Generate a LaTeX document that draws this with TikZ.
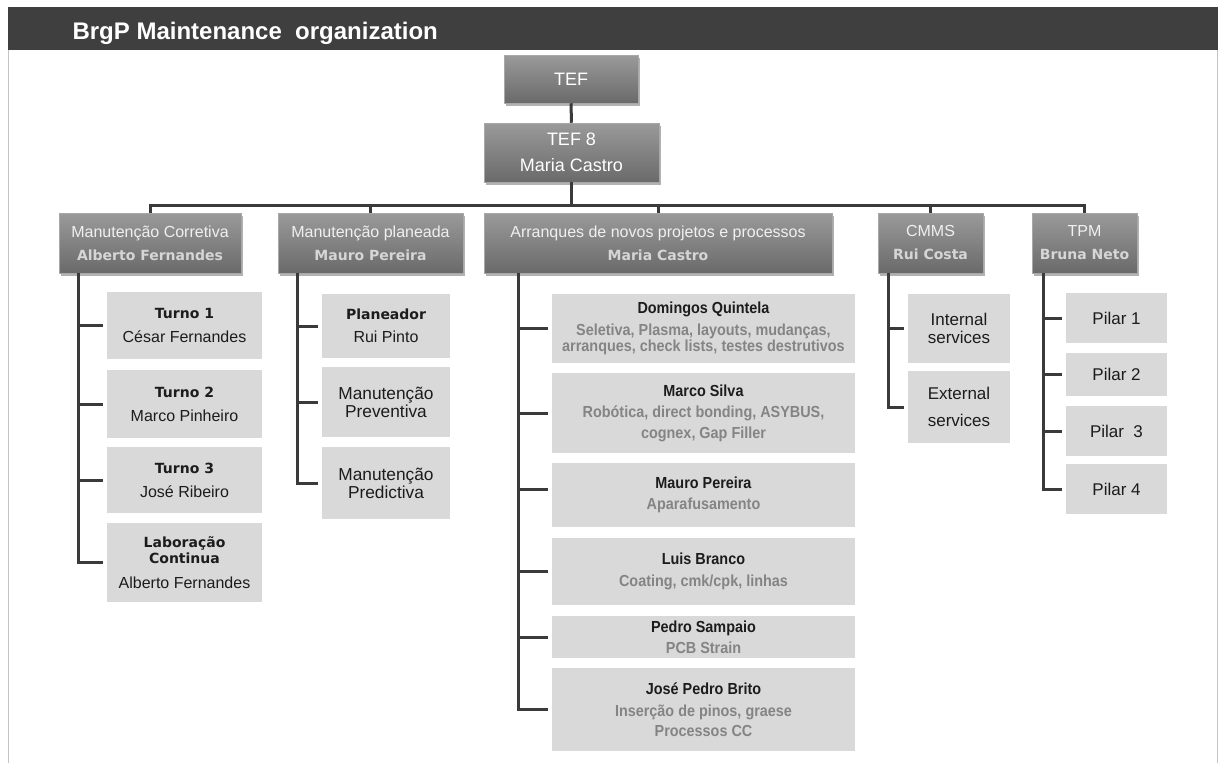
\documentclass[tikz,border=0pt]{standalone}
\usepackage{fontspec}
\setmainfont{Liberation Sans}
\newfontfamily\vfont{DejaVu Sans}
\newfontfamily\nfont[FakeStretch=0.9]{Liberation Sans}
\usetikzlibrary{shadows}

\definecolor{barc}{HTML}{3F3F3F}
\definecolor{gtop}{HTML}{9A9A9A}
\definecolor{gbot}{HTML}{6A6A6A}
\definecolor{hedge}{HTML}{A8A8A8}
\definecolor{leaf}{HTML}{D9D9D9}
\definecolor{wirec}{HTML}{3A3A3A}
\definecolor{framec}{HTML}{C4C4C4}
\definecolor{subtxt}{HTML}{848484}
\definecolor{lighttxt}{HTML}{F0F0F0}
\definecolor{boldlight}{HTML}{D6D6D6}
\definecolor{darktxt}{HTML}{1C1C1C}

% box placed by its corners: name, style, x1, y1, x2, y2, text
\newcommand\orgbox[7]{\node[#2, minimum width={(#5-#3)*1pt}, minimum height={(#6-#4)*1pt}] (#1) at ({(#3+#5)/2},{(#4+#6)/2}) {#7};}
\newcommand\vb[1]{{\vfont\bfseries #1}}
\newcommand\lb[1]{{\fontsize{14}{24}\selectfont\vfont\bfseries #1}}
\newcommand\nm[1]{{\nfont\bfseries\color{darktxt}#1}}
\newcommand\ds[1]{{\nfont\bfseries\color{subtxt}#1}}

\begin{document}
\begin{tikzpicture}[x=1pt,y=-1pt,
  headbox/.style={top color=gtop, bottom color=gbot, draw=hedge, line width=0.5pt,
    drop shadow={shadow xshift=1.5pt, shadow yshift=-2.5pt, opacity=0.3, fill=black},
    align=center, inner sep=0pt, text=lighttxt},
  leafbox/.style={fill=leaf, align=center, inner sep=0pt, text=darktxt},
  wire/.style={draw=wirec, line width=3pt},
  tick/.style={wire, shorten >=4pt}]
\useasboundingbox (0,0) rectangle (1219,763);
\fill[white] (0,0) rectangle (1219,763);

% title band and frame
\fill[barc] (8,7) rectangle (1218,50);
\draw[framec, line width=1.2pt] (8.6,50) -- (8.6,763);
\draw[framec, line width=1.2pt] (1217.4,50) -- (1217.4,763);
\node[anchor=base west, text=white, font=\fontsize{24}{28}\selectfont\bfseries] (title) at (69,39.5) {BrgP Maintenance\ \ organization};

% top of the hierarchy
\orgbox{tef}{headbox, font=\fontsize{18}{26}\selectfont, text=white}{504}{55}{638}{103}{TEF}
\orgbox{tef8}{headbox, font=\fontsize{18}{26}\selectfont, text=white}{484}{123}{659}{182}{TEF 8\\Maria Castro}

% second level
\tikzset{lvl/.style={headbox, font=\fontsize{16}{23}\selectfont}}
\orgbox{mc}{lvl}{59}{213}{241}{273}{Manutenção Corretiva\\{\fontsize{14}{23}\selectfont\vb{\color{boldlight}Alberto Fernandes}}}
\orgbox{mp}{lvl}{278}{213}{463}{273}{Manutenção planeada\\{\fontsize{14}{23}\selectfont\vb{\color{boldlight}Mauro Pereira}}}
\orgbox{ar}{lvl}{484}{213}{832}{273}{Arranques de novos projetos e processos\\{\fontsize{14}{23}\selectfont\vb{\color{boldlight}Maria Castro}}}
\orgbox{cm}{lvl}{878}{213}{983}{273}{CMMS\\{\fontsize{14}{23}\selectfont\vb{\color{boldlight}Rui Costa}}}
\orgbox{tp}{lvl}{1032}{213}{1137}{273}{TPM\\{\fontsize{14}{23}\selectfont\vb{\color{boldlight}Bruna Neto}}}

% Manutenção Corretiva
\tikzset{shiftbox/.style={leafbox, font=\fontsize{16}{24}\selectfont}}
\orgbox{t1}{shiftbox}{107}{292}{262}{359}{\lb{Turno 1}\\César Fernandes}
\orgbox{t2}{shiftbox}{107}{370}{262}{438}{\lb{Turno 2}\\Marco Pinheiro}
\orgbox{t3}{shiftbox}{107}{447}{262}{513}{\lb{Turno 3}\\José Ribeiro}
\orgbox{lab}{shiftbox}{107}{523}{262}{602}{\lb{Laboração}\\[-8pt]\lb{Continua}\\[1pt]Alberto Fernandes}

% Manutenção planeada
\orgbox{pl}{leafbox, font=\fontsize{16}{23}\selectfont}{322}{294}{450}{358}{\lb{Planeador}\\Rui Pinto}
\orgbox{pv}{leafbox, font=\fontsize{17.3}{18}\selectfont}{322}{367}{450}{437}{Manutenção\\Preventiva}
\orgbox{pd}{leafbox, font=\fontsize{17.3}{18}\selectfont}{322}{447}{450}{519}{Manutenção\\Predictiva}

% Arranques de novos projetos e processos
\tikzset{proj/.style={leafbox, font=\fontsize{16}{21}\selectfont}}
\orgbox{dq}{proj}{552}{294}{855}{363}{\nm{Domingos Quintela}\\[1pt]\ds{Seletiva, Plasma, layouts, mudanças,}\\[-5.5pt]\ds{arranques, check lists, testes destrutivos}}
\orgbox{ms}{proj}{552}{373}{855}{453}{\nm{Marco Silva}\\\ds{Robótica, direct bonding, ASYBUS,}\\\ds{cognex, Gap Filler}}
\orgbox{mpe}{proj}{552}{463}{855}{527}{\nm{Mauro Pereira}\\\ds{Aparafusamento}}
\orgbox{lb}{proj}{552}{538}{855}{605}{\nm{Luis Branco}\\[1pt]\ds{Coating, cmk/cpk, linhas}}
\orgbox{ps}{proj}{552}{616}{855}{658}{\nm{Pedro Sampaio}\\\ds{PCB Strain}}
\orgbox{jb}{proj}{552}{668}{855}{751}{\nm{José Pedro Brito}\\[1pt]\ds{Inserção de pinos, graese}\\[-1pt]\ds{Processos CC}}

% CMMS
\orgbox{is}{leafbox, font=\fontsize{17}{18}\selectfont}{908}{294}{1010}{363}{Internal\\services}
\orgbox{es}{leafbox, font=\fontsize{17}{27}\selectfont}{908}{371}{1010}{443}{External\\services}

% TPM
\tikzset{pillar/.style={leafbox, font=\fontsize{17}{20}\selectfont}}
\orgbox{p1}{pillar}{1066}{293}{1167}{343}{Pilar 1}
\orgbox{p2}{pillar}{1066}{353}{1167}{396}{Pilar 2}
\orgbox{p3}{pillar}{1066}{406}{1167}{456}{Pilar\ \ 3}
\orgbox{p4}{pillar}{1066}{464}{1167}{514}{Pilar 4}

% connectors between levels
\coordinate (bus) at (571.5,205);
\draw[wire] (tef.south) -- (tef8.north);
\draw[wire] (tef8.south) -- (bus);
\draw[wire] (mc.north) |- (bus) -| (tp.north);
\draw[wire] (mp.north) -- (mp.north |- bus);
\draw[wire] (ar.north) -- (ar.north |- bus);
\draw[wire] (cm.north) -- (cm.north |- bus);

% column spines
\coordinate (mcs) at (78,273);
\coordinate (mps) at (297,273);
\coordinate (ars) at (518,273);
\coordinate (cms) at (888,273);
\coordinate (tps) at (1043,273);
\coordinate (mpetick) at ([yshift=6pt]mpe.west);

\draw[tick] (mcs) |- (lab.west);
\foreach \n in {t1,t2,t3} \draw[tick] (mcs |- \n.west) -- (\n.west);

\draw[tick] (mps) |- (pd.west);
\foreach \n in {pl,pv} \draw[tick] (mps |- \n.west) -- (\n.west);

\draw[tick] (ars) |- (jb.west);
\foreach \n in {dq,ms,lb,ps} \draw[tick] (ars |- \n.west) -- (\n.west);
\draw[tick] (ars |- mpetick) -- (mpetick);

\draw[tick] (cms) |- (es.west);
\draw[tick] (cms |- is.west) -- (is.west);

\draw[tick] (tps) |- (p4.west);
\foreach \n in {p1,p2,p3} \draw[tick] (tps |- \n.west) -- (\n.west);
\end{tikzpicture}
\end{document}
